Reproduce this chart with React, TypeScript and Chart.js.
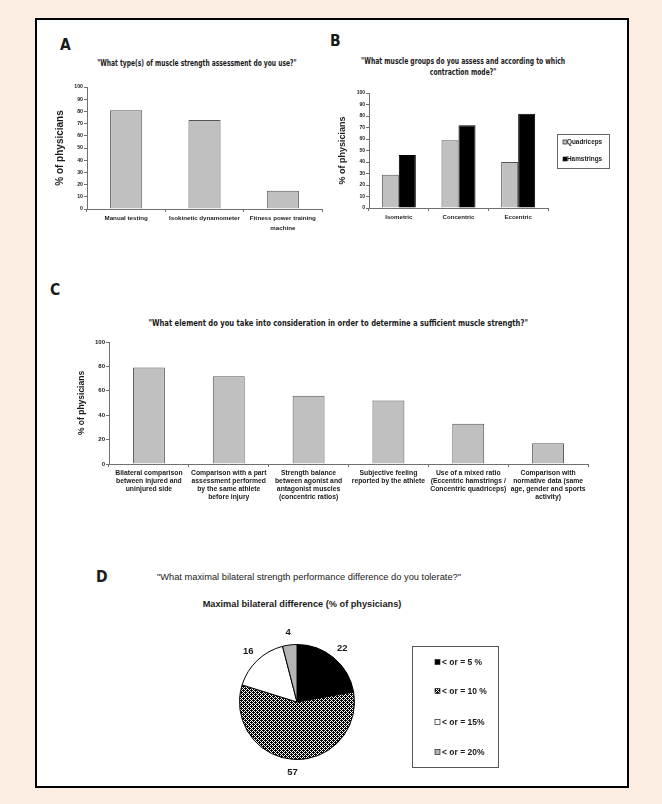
import React, { useEffect, useRef } from "react";
import { Chart, registerables } from "chart.js";
Chart.register(...registerables);

// ---------- data ----------
const aCategories = [["Manual testing"], ["Isokinetic dynamometer"], ["Fitness power training", "machine"]];
const aValues = [81, 73, 15];

const bCategories = ["Isometric", "Concentric", "Eccentric"];
const bSeriesNames = ["Quadriceps", "Hamstrings"];
const bQuadriceps = [29, 59, 40];
const bHamstrings = [46, 72, 82];

const cCategories = [
  ["Bilateral comparison", "between injured and", "uninjured side"],
  ["Comparison with a part", "assessment performed", "by the same athlete", "before injury"],
  ["Strength balance", "between agonist and", "antagonist muscles", "(concentric ratios)"],
  ["Subjective feeling", "reported by the athlete"],
  ["Use of a mixed ratio", "(Eccentric hamstrings /", "Concentric quadriceps)"],
  ["Comparison with", "normative data (same", "age, gender and sports", "activity)"],
];
const cValues = [79, 72, 56, 52, 33, 17];

const dLabels = ["< or = 5 %", "< or = 10 %", "< or = 15%", "< or = 20%"];
const dValues = [22, 57, 16, 4];

const aTitle = "\"What type(s) of muscle strength assessment do you use?\"";
const bTitle = ["\"What muscle groups do you assess and according to which", "contraction mode?\""];
const cTitle = "\"What element do you take into consideration in order to determine a sufficient muscle strength?\"";
const dTitle = "\"What maximal bilateral strength performance difference do you tolerate?\"";
const dSubtitle = "Maximal bilateral difference (% of physicians)";
const yTitle = "% of physicians";

// ---------- styles ----------
const NARROW = '"DejaVu Sans Condensed", "Liberation Sans", Arial, sans-serif';
const ARIAL = '"Liberation Sans", Arial, sans-serif';
const PAGE_BG = "#fdeee3";
const BAR_GRAY = "#c0c0c0";
const BAR_EDGE = "#555555";
const AXIS = "#707070";
const INK = "#1a1a1a";

function yAxis(o: any) {
  return {
    min: 0,
    max: 100,
    ticks: { stepSize: o.step, font: { family: ARIAL, size: o.tickSize, weight: "bold" }, color: INK, padding: 1 },
    grid: { drawOnChartArea: false, tickLength: 3, color: AXIS },
    border: { color: AXIS, width: 1 },
    title: {
      display: true,
      text: yTitle,
      font: { family: ARIAL, size: o.titleSize, weight: "bold", lineHeight: 1.2 },
      color: INK,
      padding: { top: o.titlePad, bottom: 0 },
    },
    afterFit: (s: any) => {
      s.width = o.width;
    },
  };
}

function xAxis(o: any) {
  return {
    ticks: {
      font: { family: ARIAL, size: o.size, weight: "bold", lineHeight: o.lh },
      color: INK,
      padding: o.pad,
      maxRotation: 0,
      minRotation: 0,
      autoSkip: false,
    },
    grid: { drawOnChartArea: false, tickLength: 3, color: AXIS, offset: true },
    border: { color: AXIS, width: 1 },
    afterFit: (s: any) => {
      s.height = o.height;
    },
  };
}

const boxLegendPlugin = {
  id: "boxLegend",
  afterDraw(chart: any, _a: any, o: any) {
    if (!o || !o.rows) return;
    const ctx = chart.ctx;
    let items: any[];
    if (chart.config.type === "pie") {
      const ds = chart.data.datasets[0];
      items = chart.data.labels.map((l: string, i: number) => ({ text: l, fill: ds.backgroundColor[i] }));
    } else {
      items = chart.data.datasets.map((ds: any) => ({ text: ds.label, fill: ds.backgroundColor }));
    }
    ctx.save();
    ctx.strokeStyle = o.borderColor;
    ctx.lineWidth = 1;
    ctx.strokeRect(o.x + 0.5, o.y + 0.5, o.w, o.h);
    ctx.font = o.font;
    ctx.textBaseline = "middle";
    ctx.textAlign = "left";
    items.forEach((it, i) => {
      const cy = o.rows[i];
      const m = o.marker;
      ctx.fillStyle = it.fill;
      ctx.fillRect(o.markerX, cy - m / 2, m, m);
      ctx.strokeStyle = "#222";
      ctx.lineWidth = 0.7;
      ctx.strokeRect(o.markerX, cy - m / 2, m, m);
      ctx.fillStyle = INK;
      ctx.fillText(it.text, o.textX, cy + 0.5);
    });
    ctx.restore();
  },
};

const pieValuePlugin = {
  id: "pieValues",
  afterDatasetsDraw(chart: any, _a: any, o: any) {
    const meta = chart.getDatasetMeta(0);
    const data = chart.data.datasets[0].data;
    const ctx = chart.ctx;
    ctx.save();
    ctx.font = `bold ${o.size}px ${ARIAL}`;
    ctx.fillStyle = INK;
    ctx.textAlign = "center";
    ctx.textBaseline = "middle";
    meta.data.forEach((arc: any, i: number) => {
      const p = arc.getProps(["x", "y", "startAngle", "endAngle", "outerRadius"], true);
      const mid = (p.startAngle + p.endAngle) / 2;
      const r = p.outerRadius + o.offset;
      ctx.fillText(String(data[i]), p.x + Math.cos(mid) * r, p.y + Math.sin(mid) * r);
    });
    ctx.restore();
  },
};

function hatchPattern(ctx: CanvasRenderingContext2D) {
  const c = document.createElement("canvas");
  c.width = 4;
  c.height = 4;
  const g = c.getContext("2d")!;
  g.fillStyle = "#ffffff";
  g.fillRect(0, 0, 4, 4);
  g.fillStyle = "#000000";
  for (let y = 0; y < 4; y++)
    for (let x = 0; x < 4; x++)
      if ((x + y) % 2 === 0 || (x === 1 && y === 2) || (x === 3 && y === 0)) g.fillRect(x, y, 1, 1);
  return ctx.createPattern(c, "repeat");
}

function makeA() {
  return {
    type: "bar",
    data: {
      labels: aCategories,
      datasets: [
        { data: aValues, backgroundColor: BAR_GRAY, borderColor: BAR_EDGE, borderWidth: 1, barPercentage: 0.41, categoryPercentage: 1 },
      ],
    },
    options: {
      animation: false,
      responsive: false,
      layout: { padding: { top: 12, right: 8, left: 0, bottom: 0 } },
      plugins: { legend: { display: false }, tooltip: { enabled: false } },
      scales: {
        x: xAxis({ size: 6.2, lh: 1.5, height: 31, pad: 2 }),
        y: yAxis({ step: 10, tickSize: 5.2, titleSize: 10, titlePad: 14, width: 47 }),
      },
    },
  };
}

function makeB() {
  return {
    type: "bar",
    data: {
      labels: bCategories,
      datasets: [
        { label: bSeriesNames[0], data: bQuadriceps, backgroundColor: BAR_GRAY, borderColor: BAR_EDGE, borderWidth: 1, barPercentage: 1, categoryPercentage: 0.57 },
        { label: bSeriesNames[1], data: bHamstrings, backgroundColor: "#000000", borderColor: "#000000", borderWidth: 1, barPercentage: 1, categoryPercentage: 0.57 },
      ],
    },
    options: {
      animation: false,
      responsive: false,
      layout: { padding: { top: 13, right: 74, left: 0, bottom: 0 } },
      plugins: {
        legend: { display: false },
        tooltip: { enabled: false },
        boxLegend: {
          x: 225, y: 54, w: 52, h: 34,
          rows: [62, 79], markerX: 231, marker: 4, textX: 235,
          font: `bold 6.4px ${ARIAL}`, borderColor: "#666",
        },
      },
      scales: {
        x: xAxis({ size: 6.1, lh: 1.2, height: 32, pad: 2.5 }),
        y: yAxis({ step: 10, tickSize: 5, titleSize: 9, titlePad: 5.6, width: 37 }),
      },
    },
    plugins: [boxLegendPlugin],
  };
}

function makeC() {
  return {
    type: "bar",
    data: {
      labels: cCategories,
      datasets: [
        { data: cValues, backgroundColor: BAR_GRAY, borderColor: BAR_EDGE, borderWidth: 1, barPercentage: 0.4, categoryPercentage: 1 },
      ],
    },
    options: {
      animation: false,
      responsive: false,
      layout: { padding: { top: 12, right: 37, left: 0, bottom: 0 } },
      plugins: { legend: { display: false }, tooltip: { enabled: false } },
      scales: {
        x: xAxis({ size: 6.8, lh: 1.18, height: 41, pad: 2 }),
        y: yAxis({ step: 20, tickSize: 6, titleSize: 8.5, titlePad: 36.5, width: 69 }),
      },
    },
  };
}

function makeD(canvas: HTMLCanvasElement) {
  const pat = hatchPattern(canvas.getContext("2d")!);
  return {
    type: "pie",
    data: {
      labels: dLabels,
      datasets: [
        { data: dValues, backgroundColor: ["#000000", pat, "#ffffff", "#b4b4b4"], borderColor: "#000000", borderWidth: 1 },
      ],
    },
    options: {
      animation: false,
      responsive: false,
      layout: { padding: { top: 34, right: 165, left: 39, bottom: 25 } },
      plugins: {
        legend: { display: false },
        tooltip: { enabled: false },
        pieValues: { size: 9.5, offset: 13 },
        boxLegend: {
          x: 212, y: 36, w: 86, h: 121,
          rows: [52, 81, 112, 142], markerX: 235, marker: 5, textX: 242,
          font: `bold 8.5px ${ARIAL}`, borderColor: "#555",
        },
      },
    },
    plugins: [pieValuePlugin, boxLegendPlugin],
  };
}

function ChartBox({ make, left, top, width, height }: any) {
  const ref = useRef<HTMLCanvasElement | null>(null);
  useEffect(() => {
    const chart = new Chart(ref.current as any, make(ref.current) as any);
    return () => chart.destroy();
  }, []);
  return <canvas ref={ref} width={width} height={height} style={{ position: "absolute", left, top, width, height }} />;
}

function Txt({ children, left, top, width, size, family, weight, align, lh, sx }: any) {
  return (
    <div
      style={{
        position: "absolute",
        left,
        top,
        width,
        fontSize: size,
        fontFamily: family,
        fontWeight: weight,
        textAlign: align || "left",
        lineHeight: `${lh || size * 1.2}px`,
        whiteSpace: "nowrap",
        color: INK,
      }}
    >
      <span style={{ display: "inline-block", transform: `scaleX(${sx || 1})`, transformOrigin: "center" }}>{children}</span>
    </div>
  );
}

export default function App() {
  return (
    <div style={{ position: "fixed", left: 0, top: 0, width: 662, height: 804, background: PAGE_BG, overflow: "hidden" }}>
      <div
        style={{
          position: "absolute",
          left: 35,
          top: 18,
          width: 594,
          height: 770,
          boxSizing: "border-box",
          border: "2px solid #000",
          background: "#ffffff",
        }}
      />
      {/* panel letters */}
      <Txt left={60} top={38} size={15.5} lh={15} family={NARROW} weight="bold">A</Txt>
      <Txt left={330} top={34} size={15.5} lh={15} family={NARROW} weight="bold">B</Txt>
      <Txt left={50} top={283} size={15.5} lh={15} family={NARROW} weight="bold">C</Txt>
      <Txt left={96} top={570} size={15.5} lh={15} family={NARROW} weight="bold">D</Txt>

      {/* titles */}
      <Txt left={197 - 200} top={58} width={400} size={8.5} lh={10} family={NARROW} weight="bold" align="center" sx={0.78}>{aTitle}</Txt>
      <Txt left={463 - 200} top={55.5} width={400} size={8.5} lh={11} family={NARROW} weight="bold" align="center" sx={0.79}>
        {bTitle[0]}
        <br />
        {bTitle[1]}
      </Txt>
      <Txt left={338 - 300} top={318} width={600} size={8.5} lh={10} family={NARROW} weight="bold" align="center" sx={0.89}>{cTitle}</Txt>
      <Txt left={309 - 250} top={571.5} width={500} size={9.3} lh={11} family={ARIAL} weight="normal" align="center">{dTitle}</Txt>
      <Txt left={302 - 250} top={598.5} width={500} size={9.2} lh={11} family={ARIAL} weight="bold" align="center">{dSubtitle}</Txt>

      <ChartBox make={makeA} left={40} top={75} width={290} height={165} />
      <ChartBox make={makeB} left={332} top={80} width={290} height={160} />
      <ChartBox make={makeC} left={40} top={330} width={585} height={175} />
      <ChartBox make={makeD} left={200} top={610} width={320} height={175} />
    </div>
  );
}
